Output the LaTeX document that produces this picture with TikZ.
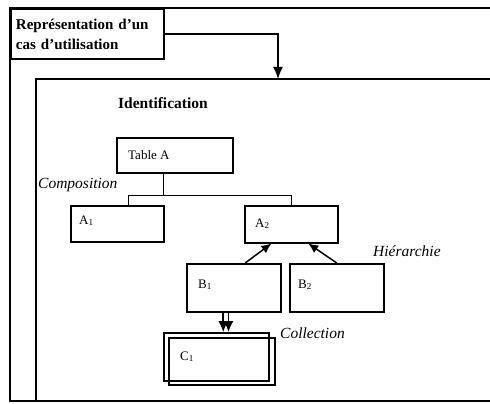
\documentclass[tikz,border=0pt]{standalone}
\usepackage{fontspec}
\setmainfont{Liberation Serif}
\usetikzlibrary{arrows.meta,calc}
\begin{document}
\begin{tikzpicture}[x=1pt,y=-1pt,
  frameline/.style={line width=2pt},
  box/.style={draw, line width=1.5pt, rectangle, inner sep=0pt, anchor=north west},
  lbl/.style={anchor=base west, inner sep=0pt, font=\fontsize{13}{15}\selectfont},
  captxt/.style={anchor=base west, inner sep=0pt, font=\fontsize{15.5}{18}\selectfont\itshape},
  conn/.style={line width=1.5pt},
  arr/.style={line width=1.5pt, -{Latex[length=10pt,width=9pt]}}
]
\useasboundingbox (0,0) rectangle (490,404);
\draw[frameline] (492,8) -- (10,8) -- (10,401) -- (492,401);
\draw[frameline] (492,79) -- (36,79) -- (36,401);

\node[draw, line width=2pt, anchor=north west, minimum width=153pt, minimum height=50pt,
      text width=143pt, inner xsep=5pt, align=left,
      font=\fontsize{15}{20}\selectfont\bfseries] (title) at (10,8)
      {Représentation d'un\\cas d'utilisation};
\coordinate (ftop) at (278,79);
\draw[arr, -{Latex[length=12pt,width=10pt]}] (title.east) -| (ftop);

\node[anchor=base west, inner sep=0pt, font=\fontsize{15.5}{18}\selectfont\bfseries] (ident) at (118,108) {Identification};

\node[box, minimum width=116pt, minimum height=35pt] (tA) at (116,137) {};
\node[lbl] (tAl) at (128,159) {Table A};

\node[box, minimum width=93pt, minimum height=36pt] (A1) at (70,205) {};
\node[lbl] (A1l) at (79,224) {A\textsubscript{1}};
\node[box, minimum width=93pt, minimum height=37pt] (A2) at (244,205) {};
\node[lbl] (A2l) at (255,227) {A\textsubscript{2}};

\node[box, minimum width=94pt, minimum height=48pt] (B1) at (186,263) {};
\node[lbl] (B1l) at (198,288) {B\textsubscript{1}};
\node[box, minimum width=94pt, minimum height=48pt] (B2) at (289,263) {};
\node[lbl] (B2l) at (298,288) {B\textsubscript{2}};

\node[box, minimum width=105pt, minimum height=48pt] (C1b) at (163,332) {};
\node[box, minimum width=106pt, minimum height=47pt] (C1) at (168,337) {};
\node[lbl] (C1l) at (180,360) {C\textsubscript{1}};

% composition connectors
\coordinate (tAb) at ($(tA.south west)!0.405!(tA.south east)$);
\coordinate (A1t) at ($(A1.north west)!0.62!(A1.north east)$);
\path (tAb) ++(0,22) coordinate (j);
\draw[conn] (tAb) -- (j);
\draw[conn] (A1t) |- (j) -| (A2.north);

% hierarchy arrows
\draw[arr] ($(B1.north west)!0.62!(B1.north east)$) -- ($(A2.south west)!0.29!(A2.south east)$);
\draw[arr] (B2.north) -- ($(A2.south west)!0.68!(A2.south east)$);

% collection arrows
\coordinate (ca) at ($(B1.south west)!0.39!(B1.south east)$);
\coordinate (cb) at ($(B1.south west)!0.445!(B1.south east)$);
\draw[arr, -{Latex[length=11pt,width=10pt]}] (ca) -- (ca |- C1b.north);
\draw[arr, -{Latex[length=11pt,width=10pt]}] (cb) -- (cb |- C1b.north);

\node[captxt] (comp) at (38,188) {Composition};
\node[captxt] (hier) at (373,256) {Hiérarchie};
\node[captxt] (coll) at (280,338) {Collection};
\end{tikzpicture}
\end{document}
